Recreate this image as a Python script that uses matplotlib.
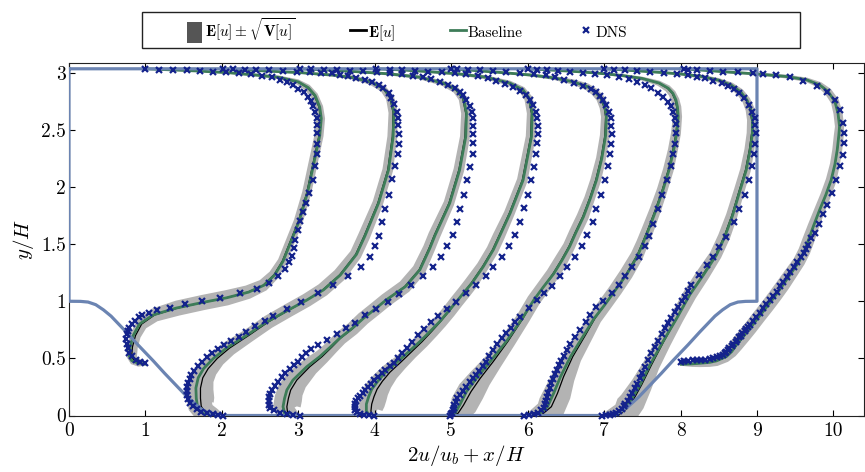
import numpy as np
import matplotlib
matplotlib.use("Agg")
import matplotlib.pyplot as plt
from matplotlib.lines import Line2D
from matplotlib.patches import Patch, Rectangle
from matplotlib.ticker import FuncFormatter, MultipleLocator

plt.rcParams["font.family"] = "serif"
plt.rcParams["font.serif"] = ["cmr10"]
plt.rcParams["mathtext.fontset"] = "cm"
plt.rcParams["axes.unicode_minus"] = False
plt.rcParams["axes.formatter.use_mathtext"] = True

# Geometry of the periodic hill (left hill), in units of H
top_wall = 3.035
domain_len = 9.0
hill_x = [0.0, 0.15, 0.25, 0.35, 0.45, 0.55, 0.65, 0.75, 0.9, 1.0, 1.1, 1.25, 1.4, 1.55, 1.7, 1.8, 1.9, 1.95]
hill_y = [1.0, 0.999, 0.993, 0.97, 0.925, 0.87, 0.80, 0.73, 0.62, 0.55, 0.48, 0.37, 0.265, 0.16, 0.07, 0.03, 0.006, 0.0]

# Profiles: y/H, baseline, mean E[u], sqrt(V[u]) -- plotted as 2u/ub + x/H
p1_y = [0.45, 0.46, 0.48, 0.52, 0.60, 0.70, 0.80, 0.88, 0.94, 0.99, 1.03, 1.08, 1.14, 1.23, 1.35, 1.50,
        1.70, 1.95, 2.20, 2.45, 2.60, 2.70, 2.80, 2.87, 2.92, 2.96, 2.98, 3.00, 3.015, 3.025, 3.035]
p1_base = [1.00, 0.90, 0.82, 0.79, 0.80, 0.84, 0.92, 1.10, 1.40, 1.75, 2.06, 2.35, 2.55, 2.69, 2.80, 2.89,
           3.01, 3.12, 3.20, 3.28, 3.30, 3.28, 3.22, 3.13, 3.00, 2.75, 2.45, 2.10, 1.70, 1.35, 1.00]
p1_mean = [1.00, 0.92, 0.85, 0.82, 0.83, 0.87, 0.95, 1.12, 1.42, 1.76, 2.06, 2.34, 2.54, 2.68, 2.79, 2.88,
           3.00, 3.11, 3.19, 3.27, 3.29, 3.27, 3.21, 3.12, 2.99, 2.74, 2.44, 2.09, 1.69, 1.34, 1.00]
p1_std = [0.02, 0.05, 0.06, 0.07, 0.07, 0.07, 0.08, 0.09, 0.10, 0.10, 0.10, 0.09, 0.08, 0.07, 0.06, 0.06,
          0.06, 0.06, 0.06, 0.06, 0.06, 0.055, 0.05, 0.045, 0.035, 0.025, 0.02, 0.015, 0.01, 0.01, 0.01]

p2_y = [0.00, 0.005, 0.015, 0.04, 0.08, 0.15, 0.24, 0.33, 0.41, 0.50, 0.59, 0.70, 0.82, 0.92, 1.01, 1.10,
        1.23, 1.41, 1.57, 1.86, 2.15, 2.44, 2.65, 2.78, 2.86, 2.92, 2.96, 2.98, 3.00, 3.015, 3.035]
p2_base = [2.00, 1.90, 1.80, 1.72, 1.68, 1.665, 1.66, 1.69, 1.76, 1.89, 2.06, 2.32, 2.59, 2.86, 3.11, 3.33,
           3.55, 3.76, 3.87, 4.05, 4.18, 4.24, 4.25, 4.21, 4.12, 3.95, 3.70, 3.45, 3.05, 2.60, 2.00]
p2_mean = [2.00, 1.93, 1.84, 1.77, 1.73, 1.72, 1.72, 1.75, 1.82, 1.94, 2.10, 2.35, 2.61, 2.87, 3.11, 3.32,
           3.54, 3.75, 3.86, 4.04, 4.17, 4.23, 4.24, 4.20, 4.11, 3.94, 3.69, 3.44, 3.04, 2.59, 2.00]
p2_std = [0.03, 0.08, 0.12, 0.15, 0.17, 0.18, 0.17, 0.15, 0.13, 0.11, 0.10, 0.09, 0.09, 0.09, 0.09, 0.09,
          0.09, 0.08, 0.08, 0.07, 0.07, 0.065, 0.06, 0.055, 0.045, 0.035, 0.025, 0.02, 0.015, 0.01, 0.01]

p3_y = [0.00, 0.005, 0.02, 0.077, 0.15, 0.223, 0.31, 0.427, 0.515, 0.60, 0.676, 0.76, 0.85, 0.93, 1.012, 1.128,
        1.275, 1.464, 1.58, 1.858, 2.15, 2.44, 2.646, 2.777, 2.85, 2.909, 2.961, 2.99, 3.01, 3.025, 3.035]
p3_base = [3.00, 2.90, 2.82, 2.80, 2.82, 2.85, 2.93, 3.11, 3.28, 3.42, 3.54, 3.70, 3.85, 4.00, 4.15, 4.40,
           4.59, 4.72, 4.79, 4.98, 5.11, 5.19, 5.20, 5.16, 5.07, 4.90, 4.59, 4.20, 3.75, 3.35, 3.00]
p3_mean = [3.00, 2.93, 2.86, 2.85, 2.87, 2.90, 2.98, 3.15, 3.31, 3.44, 3.55, 3.71, 3.85, 4.00, 4.15, 4.39,
           4.58, 4.71, 4.78, 4.97, 5.10, 5.18, 5.19, 5.15, 5.06, 4.89, 4.58, 4.19, 3.74, 3.34, 3.00]
p3_std = [0.03, 0.10, 0.15, 0.18, 0.18, 0.17, 0.15, 0.12, 0.10, 0.09, 0.09, 0.09, 0.09, 0.09, 0.09, 0.09,
          0.09, 0.08, 0.08, 0.07, 0.07, 0.065, 0.06, 0.055, 0.045, 0.035, 0.025, 0.02, 0.015, 0.01, 0.01]

p4_y = [0.00, 0.01, 0.04, 0.10, 0.165, 0.23, 0.30, 0.38, 0.46, 0.55, 0.647, 0.74, 0.822, 0.91, 0.997, 1.08,
        1.158, 1.304, 1.45, 1.566, 1.77, 2.06, 2.44, 2.646, 2.777, 2.85, 2.909, 2.961, 2.99, 3.01, 3.025, 3.035]
p4_base = [4.00, 3.92, 3.89, 3.89, 3.92, 3.96, 4.04, 4.14, 4.28, 4.43, 4.59, 4.73, 4.85, 4.96, 5.07, 5.17,
           5.27, 5.42, 5.55, 5.63, 5.77, 5.94, 6.05, 6.06, 6.02, 5.94, 5.77, 5.46, 5.10, 4.70, 4.35, 4.00]
p4_mean = [4.00, 3.96, 3.95, 3.96, 3.99, 4.03, 4.10, 4.20, 4.33, 4.47, 4.62, 4.75, 4.86, 4.97, 5.07, 5.17,
           5.26, 5.41, 5.54, 5.62, 5.76, 5.93, 6.04, 6.05, 6.01, 5.93, 5.76, 5.45, 5.09, 4.69, 4.34, 4.00]
p4_std = [0.03, 0.10, 0.15, 0.17, 0.17, 0.16, 0.14, 0.12, 0.10, 0.09, 0.09, 0.09, 0.09, 0.09, 0.09, 0.09,
          0.09, 0.08, 0.08, 0.08, 0.07, 0.07, 0.065, 0.06, 0.055, 0.045, 0.035, 0.025, 0.02, 0.015, 0.01, 0.01]

p5_y = [0.00, 0.02, 0.09, 0.21, 0.326, 0.472, 0.647, 0.851, 1.01, 1.12, 1.24, 1.36, 1.48, 1.60, 1.74, 1.90,
        2.06, 2.25, 2.45, 2.616, 2.70, 2.777, 2.836, 2.88, 2.92, 2.955, 2.98, 3.00, 3.015, 3.027, 3.035]
p5_base = [5.00, 5.05, 5.11, 5.20, 5.33, 5.51, 5.72, 5.93, 6.08, 6.20, 6.34, 6.45, 6.55, 6.63, 6.73, 6.82,
           6.90, 6.97, 7.02, 7.03, 7.01, 6.96, 6.88, 6.78, 6.60, 6.35, 6.05, 5.70, 5.40, 5.18, 5.00]
p5_mean = [5.00, 5.09, 5.16, 5.26, 5.38, 5.55, 5.74, 5.94, 6.08, 6.20, 6.33, 6.44, 6.54, 6.62, 6.72, 6.81,
           6.89, 6.96, 7.01, 7.02, 7.00, 6.95, 6.87, 6.77, 6.59, 6.34, 6.04, 5.69, 5.39, 5.17, 5.00]
p5_std = [0.05, 0.14, 0.18, 0.18, 0.15, 0.12, 0.10, 0.09, 0.09, 0.09, 0.09, 0.09, 0.08, 0.08, 0.08, 0.07,
          0.07, 0.065, 0.065, 0.06, 0.06, 0.055, 0.05, 0.045, 0.035, 0.025, 0.02, 0.015, 0.01, 0.01, 0.01]

p6_y = [0.00, 0.01, 0.077, 0.194, 0.34, 0.515, 0.72, 0.85, 0.97, 1.10, 1.24, 1.40, 1.51, 1.624, 1.80, 1.974,
        2.15, 2.324, 2.47, 2.616, 2.70, 2.762, 2.82, 2.864, 2.91, 2.95, 2.975, 2.995, 3.01, 3.022, 3.035]
p6_base = [6.02, 6.14, 6.26, 6.34, 6.43, 6.56, 6.75, 6.87, 7.01, 7.15, 7.30, 7.44, 7.51, 7.58, 7.68, 7.77,
           7.85, 7.91, 7.95, 7.97, 7.96, 7.94, 7.90, 7.84, 7.72, 7.50, 7.25, 6.95, 6.65, 6.35, 6.00]
p6_mean = [6.02, 6.19, 6.31, 6.39, 6.47, 6.59, 6.77, 6.88, 7.01, 7.15, 7.29, 7.43, 7.50, 7.57, 7.67, 7.76,
           7.84, 7.90, 7.94, 7.96, 7.95, 7.93, 7.89, 7.83, 7.71, 7.49, 7.24, 6.94, 6.64, 6.34, 6.00]
p6_std = [0.05, 0.15, 0.19, 0.18, 0.15, 0.12, 0.10, 0.09, 0.09, 0.09, 0.09, 0.085, 0.08, 0.08, 0.075, 0.07,
          0.07, 0.065, 0.065, 0.06, 0.06, 0.055, 0.05, 0.045, 0.035, 0.025, 0.02, 0.015, 0.01, 0.01, 0.01]

p7_y = [0.00, 0.005, 0.06, 0.122, 0.267, 0.443, 0.647, 0.851, 1.056, 1.231, 1.406, 1.566, 1.75, 1.974, 2.15,
        2.324, 2.47, 2.587, 2.68, 2.76, 2.83, 2.89, 2.935, 2.967, 2.99, 3.005, 3.018, 3.028, 3.035]
p7_base = [7.02, 7.16, 7.27, 7.34, 7.47, 7.60, 7.77, 7.95, 8.12, 8.30, 8.47, 8.58, 8.68, 8.78, 8.86,
           8.91, 8.94, 8.94, 8.92, 8.87, 8.79, 8.67, 8.50, 8.28, 8.00, 7.70, 7.40, 7.18, 7.00]
p7_mean = [7.02, 7.19, 7.30, 7.37, 7.49, 7.62, 7.78, 7.95, 8.12, 8.29, 8.46, 8.57, 8.67, 8.77, 8.85,
           8.90, 8.93, 8.93, 8.91, 8.86, 8.78, 8.66, 8.49, 8.27, 7.99, 7.69, 7.39, 7.17, 7.00]
p7_std = [0.05, 0.14, 0.18, 0.17, 0.14, 0.11, 0.10, 0.09, 0.09, 0.09, 0.08, 0.08, 0.075, 0.07, 0.07,
          0.065, 0.065, 0.06, 0.06, 0.055, 0.05, 0.04, 0.03, 0.025, 0.02, 0.015, 0.01, 0.01, 0.01]

p8_y = [0.448, 0.452, 0.457, 0.465, 0.478, 0.516, 0.56, 0.618, 0.69, 0.764, 0.86, 0.953, 1.05, 1.143, 1.25,
        1.347, 1.44, 1.53, 1.66, 1.80, 1.93, 2.06, 2.20, 2.325, 2.45, 2.53, 2.646, 2.748, 2.836, 2.894,
        2.938, 2.967, 2.99, 3.005, 3.018, 3.028, 3.035]
p8_base = [8.01, 8.15, 8.25, 8.38, 8.47, 8.60, 8.67, 8.73, 8.82, 8.91, 9.02, 9.13, 9.24, 9.34, 9.45,
           9.55, 9.62, 9.67, 9.74, 9.82, 9.90, 9.97, 10.02, 10.05, 10.07, 10.08, 10.06, 10.02, 9.93, 9.82,
           9.65, 9.39, 8.99, 8.65, 8.38, 8.18, 8.00]
p8_mean = [8.01, 8.15, 8.25, 8.37, 8.46, 8.58, 8.66, 8.73, 8.82, 8.91, 9.02, 9.13, 9.24, 9.34, 9.45,
           9.55, 9.62, 9.67, 9.74, 9.82, 9.90, 9.97, 10.02, 10.05, 10.07, 10.08, 10.06, 10.02, 9.93, 9.82,
           9.65, 9.39, 8.99, 8.65, 8.38, 8.18, 8.00]
p8_std = [0.02, 0.04, 0.05, 0.06, 0.07, 0.08, 0.085, 0.09, 0.09, 0.09, 0.09, 0.09, 0.09, 0.09, 0.085,
          0.08, 0.08, 0.08, 0.075, 0.07, 0.07, 0.07, 0.065, 0.065, 0.065, 0.06, 0.06, 0.055, 0.05, 0.04,
          0.03, 0.025, 0.02, 0.015, 0.01, 0.01, 0.01]

# DNS reference
dns1_y = [0.46, 0.47, 0.49, 0.52, 0.55, 0.59, 0.63, 0.67, 0.71, 0.74, 0.77, 0.80, 0.83, 0.86, 0.88, 0.90,
          0.92, 0.945, 0.975, 1.00, 1.03, 1.07, 1.11, 1.16, 1.22, 1.28, 1.34, 1.40, 1.47, 1.54, 1.62, 1.70,
          1.78, 1.86, 1.95, 2.06, 2.18, 2.29, 2.38, 2.47, 2.54, 2.60, 2.66, 2.71, 2.75, 2.79, 2.83, 2.86,
          2.89, 2.915, 2.937, 2.96, 2.975, 2.99, 3.00, 3.005, 3.01, 3.015, 3.02, 3.025, 3.028, 3.03]
dns1_x = [0.99, 0.93, 0.87, 0.82, 0.79, 0.77, 0.755, 0.75, 0.755, 0.77, 0.79, 0.82, 0.86, 0.91, 0.96, 1.04,
          1.15, 1.32, 1.52, 1.74, 1.98, 2.24, 2.46, 2.62, 2.73, 2.82, 2.88, 2.92, 2.94, 2.96, 2.99, 3.02,
          3.06, 3.10, 3.14, 3.19, 3.22, 3.24, 3.25, 3.25, 3.25, 3.24, 3.22, 3.19, 3.16, 3.12, 3.07, 3.00,
          2.93, 2.85, 2.76, 2.65, 2.52, 2.38, 2.22, 2.06, 1.89, 1.71, 1.54, 1.36, 1.18, 1.00]

dns2_y = [0.000, 0.004, 0.010, 0.020, 0.035, 0.055, 0.08, 0.11, 0.145, 0.18, 0.215, 0.25, 0.285, 0.32,
          0.355, 0.39, 0.43, 0.47, 0.51, 0.545, 0.58, 0.615, 0.65, 0.69, 0.73, 0.78, 0.83, 0.875, 0.93,
          0.997, 1.07, 1.143, 1.22, 1.30, 1.39, 1.485, 1.575, 1.69, 1.81, 1.93, 2.07, 2.18, 2.29, 2.38,
          2.465, 2.54, 2.60, 2.66, 2.73, 2.78, 2.82, 2.865, 2.89, 2.915, 2.94, 2.95, 2.97, 2.98, 2.996,
          3.00, 3.005, 3.01, 3.015, 3.02, 3.025, 3.028, 3.03, 3.032]
dns2_x = [2.02, 1.95, 1.88, 1.80, 1.73, 1.67, 1.62, 1.58, 1.56, 1.545, 1.54, 1.55, 1.56, 1.58,
          1.60, 1.64, 1.69, 1.74, 1.80, 1.87, 1.95, 2.03, 2.12, 2.22, 2.32, 2.43, 2.56, 2.67, 2.85,
          3.04, 3.26, 3.457, 3.65, 3.82, 3.94, 4.00, 4.06, 4.09, 4.14, 4.19, 4.23, 4.27, 4.30, 4.32,
          4.32, 4.31, 4.31, 4.29, 4.25, 4.21, 4.18, 4.11, 4.05, 3.97, 3.87, 3.76, 3.65, 3.54, 3.44,
          3.30, 3.15, 2.98, 2.80, 2.62, 2.45, 2.30, 2.15, 2.02]

dns3_y = [0.000, 0.004, 0.012, 0.025, 0.045, 0.07, 0.095, 0.125, 0.16, 0.19, 0.225, 0.26, 0.297, 0.335,
          0.37, 0.405, 0.44, 0.472, 0.51, 0.545, 0.58, 0.618, 0.66, 0.71, 0.764, 0.813, 0.88, 0.933,
          0.997, 1.061, 1.143, 1.222, 1.304, 1.39, 1.485, 1.58, 1.69, 1.808, 1.931, 2.062, 2.179, 2.287,
          2.383, 2.465, 2.538, 2.602, 2.66, 2.71, 2.763, 2.807, 2.836, 2.865, 2.894, 2.923, 2.944, 2.961,
          2.975, 2.987, 2.997, 3.005, 3.012, 3.018, 3.023, 3.027, 3.03, 3.032]
dns3_x = [3.02, 2.93, 2.85, 2.76, 2.68, 2.63, 2.61, 2.61, 2.62, 2.63, 2.66, 2.69, 2.73, 2.78,
          2.83, 2.89, 2.94, 2.99, 3.05, 3.10, 3.17, 3.26, 3.37, 3.50, 3.62, 3.74, 3.87, 4.02,
          4.17, 4.32, 4.47, 4.63, 4.76, 4.86, 4.95, 5.02, 5.07, 5.12, 5.17, 5.21, 5.25, 5.28,
          5.29, 5.29, 5.29, 5.29, 5.27, 5.25, 5.20, 5.16, 5.11, 5.05, 4.96, 4.85, 4.74, 4.63,
          4.50, 4.35, 4.20, 4.03, 3.85, 3.67, 3.50, 3.33, 3.16, 3.02]

dns4_y = [0.000, 0.003, 0.008, 0.016, 0.03, 0.05, 0.075, 0.10, 0.125, 0.15, 0.175, 0.20, 0.225, 0.253,
          0.28, 0.31, 0.34, 0.37, 0.40, 0.43, 0.46, 0.50, 0.545, 0.595, 0.647, 0.705, 0.758, 0.816, 0.872,
          0.933, 0.997, 1.07, 1.143, 1.222, 1.304, 1.39, 1.485, 1.58, 1.697, 1.814, 1.931, 2.062, 2.179,
          2.287, 2.383, 2.465, 2.538, 2.602, 2.66, 2.719, 2.763, 2.807, 2.844, 2.874, 2.903, 2.932, 2.952,
          2.973, 2.985, 2.995, 3.003, 3.01, 3.017, 3.022, 3.027, 3.031]
dns4_x = [3.99, 3.92, 3.86, 3.81, 3.77, 3.745, 3.74, 3.745, 3.76, 3.78, 3.81, 3.84, 3.87, 3.91,
          3.95, 3.99, 4.04, 4.09, 4.14, 4.20, 4.25, 4.30, 4.35, 4.42, 4.49, 4.57, 4.65, 4.73, 4.83,
          4.94, 5.06, 5.19, 5.32, 5.45, 5.55, 5.66, 5.75, 5.83, 5.90, 5.95, 6.01, 6.05, 6.08,
          6.11, 6.12, 6.13, 6.13, 6.12, 6.11, 6.07, 6.03, 5.98, 5.90, 5.81, 5.70, 5.59, 5.48,
          5.35, 5.20, 5.05, 4.88, 4.70, 4.52, 4.36, 4.20, 4.02]

dns5_y = [0.0, 0.01, 0.025, 0.045, 0.07, 0.095, 0.12, 0.15, 0.18, 0.215, 0.253, 0.29, 0.325, 0.355, 0.39,
          0.43, 0.472, 0.52, 0.574, 0.625, 0.676, 0.72, 0.764, 0.815, 0.866, 0.939, 1.012, 1.07, 1.136,
          1.22, 1.30, 1.39, 1.48, 1.58, 1.697, 1.808, 1.93, 2.06, 2.18, 2.29, 2.38, 2.465, 2.538, 2.602,
          2.66, 2.719, 2.763, 2.80, 2.83, 2.856, 2.88, 2.91, 2.94, 2.96, 2.98, 2.992, 3.0, 3.008, 3.015,
          3.021, 3.026, 3.03, 3.033]
dns5_x = [4.99, 5.00, 5.01, 5.02, 5.03, 5.04, 5.06, 5.08, 5.11, 5.15, 5.20, 5.24, 5.29, 5.33, 5.37,
          5.42, 5.46, 5.50, 5.55, 5.60, 5.66, 5.72, 5.78, 5.84, 5.90, 6.02, 6.12, 6.21, 6.32,
          6.42, 6.52, 6.62, 6.71, 6.78, 6.85, 6.90, 6.96, 7.01, 7.05, 7.08, 7.09, 7.10, 7.09, 7.09,
          7.06, 7.03, 6.99, 6.95, 6.90, 6.83, 6.72, 6.60, 6.47, 6.36, 6.24, 6.08, 5.90, 5.72, 5.55,
          5.38, 5.22, 5.08, 5.00]

dns6_y = [0.000, 0.005, 0.012, 0.025, 0.045, 0.07, 0.10, 0.13, 0.165, 0.20, 0.24, 0.281, 0.32, 0.36,
          0.40, 0.44, 0.48, 0.52, 0.573, 0.63, 0.69, 0.75, 0.82, 0.88, 0.953, 1.003, 1.07, 1.14, 1.22,
          1.30, 1.39, 1.48, 1.57, 1.68, 1.81, 1.93, 2.06, 2.18, 2.29, 2.38, 2.47, 2.552, 2.60, 2.66,
          2.71, 2.748, 2.786, 2.826, 2.864, 2.893, 2.923, 2.943, 2.966, 2.98, 2.992, 3.002, 3.01,
          3.017, 3.023, 3.028, 3.032]
dns6_x = [5.95, 6.02, 6.08, 6.13, 6.18, 6.21, 6.23, 6.245, 6.255, 6.27, 6.29, 6.31, 6.33, 6.36,
          6.38, 6.41, 6.44, 6.47, 6.51, 6.56, 6.62, 6.68, 6.76, 6.815, 6.90, 6.99, 7.10, 7.19, 7.27,
          7.37, 7.46, 7.53, 7.59, 7.64, 7.70, 7.76, 7.82, 7.87, 7.90, 7.93, 7.94, 7.94, 7.93, 7.90,
          7.87, 7.83, 7.77, 7.71, 7.62, 7.53, 7.43, 7.32, 7.19, 7.04, 6.88, 6.72, 6.56,
          6.40, 6.25, 6.12, 6.00]

dns7_y = [0.000, 0.003, 0.008, 0.015, 0.025, 0.04, 0.06, 0.08, 0.10, 0.13, 0.165, 0.20, 0.238, 0.28,
          0.326, 0.375, 0.428, 0.485, 0.545, 0.60, 0.653, 0.71, 0.764, 0.81, 0.857, 0.905, 0.953, 1.00,
          1.041, 1.09, 1.143, 1.231, 1.318, 1.391, 1.479, 1.566, 1.69, 1.81, 1.93, 2.06, 2.18, 2.29,
          2.38, 2.47, 2.54, 2.60, 2.66, 2.72, 2.777, 2.82, 2.86, 2.88, 2.909, 2.932, 2.95, 2.967, 2.98,
          2.992, 3.002, 3.01, 3.017, 3.023, 3.028, 3.032]
dns7_x = [6.97, 7.03, 7.08, 7.12, 7.16, 7.20, 7.23, 7.26, 7.28, 7.31, 7.34, 7.37, 7.40, 7.43,
          7.47, 7.50, 7.53, 7.57, 7.62, 7.66, 7.71, 7.76, 7.80, 7.84, 7.88, 7.93, 7.97, 8.02,
          8.06, 8.10, 8.14, 8.24, 8.34, 8.42, 8.50, 8.59, 8.70, 8.77, 8.84, 8.90, 8.94, 8.96,
          8.98, 8.99, 8.98, 8.97, 8.94, 8.90, 8.83, 8.76, 8.70, 8.62, 8.54, 8.43, 8.32, 8.21, 8.10,
          7.95, 7.78, 7.60, 7.43, 7.28, 7.13, 7.00]

dns8_y = [0.47, 0.478, 0.48, 0.482, 0.484, 0.487, 0.49, 0.495, 0.50, 0.508, 0.518, 0.53, 0.545, 0.56,
          0.574, 0.59, 0.61, 0.628, 0.647, 0.665, 0.685, 0.70, 0.72, 0.74, 0.757, 0.775, 0.793, 0.83,
          0.866, 0.90, 0.939, 0.975, 1.012, 1.05, 1.085, 1.13, 1.172, 1.215, 1.26, 1.30, 1.347, 1.385,
          1.42, 1.456, 1.493, 1.552, 1.60, 1.677, 1.764, 1.843, 1.945, 2.06, 2.18, 2.28, 2.383, 2.47,
          2.558, 2.675, 2.763, 2.836, 2.88, 2.93, 2.967, 2.98, 2.99, 2.996, 3.003, 3.01, 3.017, 3.023,
          3.028, 3.03]
dns8_x = [8.00, 8.04, 8.10, 8.16, 8.21, 8.27, 8.32, 8.38, 8.43, 8.48, 8.52, 8.55, 8.58, 8.60,
          8.62, 8.64, 8.67, 8.69, 8.72, 8.74, 8.77, 8.79, 8.81, 8.84, 8.86, 8.88, 8.91, 8.95,
          8.99, 9.04, 9.08, 9.12, 9.17, 9.21, 9.26, 9.30, 9.34, 9.39, 9.43, 9.48, 9.52, 9.57,
          9.61, 9.64, 9.67, 9.71, 9.76, 9.81, 9.87, 9.92, 9.98, 10.03, 10.09, 10.12, 10.14, 10.14,
          10.12, 10.09, 10.02, 9.91, 9.78, 9.60, 9.43, 9.25, 9.08, 8.95, 8.75, 8.55, 8.38, 8.22,
          8.10, 8.04]

profiles = [
    (p1_y, p1_base, p1_mean, p1_std),
    (p2_y, p2_base, p2_mean, p2_std),
    (p3_y, p3_base, p3_mean, p3_std),
    (p4_y, p4_base, p4_mean, p4_std),
    (p5_y, p5_base, p5_mean, p5_std),
    (p6_y, p6_base, p6_mean, p6_std),
    (p7_y, p7_base, p7_mean, p7_std),
    (p8_y, p8_base, p8_mean, p8_std),
]
dns = [(dns1_x, dns1_y), (dns2_x, dns2_y), (dns3_x, dns3_y), (dns4_x, dns4_y),
       (dns5_x, dns5_y), (dns6_x, dns6_y), (dns7_x, dns7_y), (dns8_x, dns8_y)]

GREY = "#b3b3b3"
GREEN = "#3d7c58"
NAVY = "#14238c"
WALL = "#6b84b2"

fig = plt.figure(figsize=(8.65, 4.72), dpi=100)
ax = fig.add_axes([69 / 865, 1 - 415.5 / 472, 795 / 865, 353 / 472])
ax.set_xlim(0, 10.4)
ax.set_ylim(0, 3.09)


def band_polygon(xs, ys, s):
    # offset the mean curve normal to itself (in screen space) by +/- sqrt(V)
    xs, ys, s = np.asarray(xs), np.asarray(ys), np.asarray(s)
    pts = ax.transData.transform(np.column_stack([xs, ys]))
    d = np.gradient(pts, axis=0)
    n = np.column_stack([-d[:, 1], d[:, 0]])
    n /= np.maximum(np.linalg.norm(n, axis=1), 1e-9)[:, None]
    k = ax.transData.transform([[1, 0]])[0, 0] - ax.transData.transform([[0, 0]])[0, 0]
    off = n * (s * k)[:, None]
    inv = ax.transData.inverted()
    upper = inv.transform(pts + off)
    lower = inv.transform(pts - off)
    return np.vstack([upper, lower[::-1]])


for y, base, mean, std in profiles:
    poly = band_polygon(mean, y, std)
    ax.fill(poly[:, 0], poly[:, 1], color=GREY, lw=0, zorder=1)
    ax.plot(mean, y, color="k", lw=0.9, zorder=2)
    ax.plot(base, y, color=GREEN, lw=2.0, zorder=3)

# domain outline
hx = np.asarray(hill_x)
hy = np.asarray(hill_y)
wall_x = np.concatenate([[0.0], hx, domain_len - hx[::-1], [domain_len, 0.0]])
wall_y = np.concatenate([[top_wall], hy, hy[::-1], [top_wall, top_wall]])
ax.plot(wall_x, wall_y, color=WALL, lw=2.3, zorder=4, solid_joinstyle="round")

for dx, dy in dns:
    ax.plot(dx, dy, ls="none", marker="x", ms=4.0, mew=1.6, color=NAVY, zorder=5, clip_on=False)

ax.xaxis.set_major_locator(MultipleLocator(1))
ax.yaxis.set_major_locator(MultipleLocator(0.5))
fmt = FuncFormatter(lambda v, p: f"{v:g}")
ax.xaxis.set_major_formatter(fmt)
ax.yaxis.set_major_formatter(fmt)
ax.tick_params(direction="in", top=True, right=True, length=4, width=0.8, labelsize=14)
ax.tick_params(axis="x", pad=5)
ax.tick_params(axis="y", pad=2)
for sp in ax.spines.values():
    sp.set_linewidth(0.8)
    sp.set_color("#222222")

ax.set_xlabel(r"$2u/u_b + x/H$", fontsize=15, labelpad=2)
ax.set_ylabel(r"$y/H$", fontsize=15, labelpad=4)

handles = [
    Patch(facecolor="#555555", edgecolor="none"),
    Line2D([], [], color="k", lw=2),
    Line2D([], [], color=GREEN, lw=2),
    Line2D([], [], ls="none", marker="x", ms=4.0, mew=1.6, color=NAVY),
]
labels = [r"$\mathbf{E}[u] \pm \sqrt{\mathbf{V}[u]}$", r"$\mathbf{E}[u]$", "Baseline", "DNS"]
fig.legend(handles, labels, loc="center left", bbox_to_anchor=(187 / 865, 1 - 30 / 472),
           bbox_transform=fig.transFigure, ncol=4, frameon=False, fontsize=11,
           handlelength=1.0, handleheight=1.65, handletextpad=0.15, columnspacing=3.6,
           borderpad=0, borderaxespad=0)
fig.patches.append(Rectangle((142 / 865, 1 - 48 / 472), 658 / 865, 36 / 472, fill=False,
                             edgecolor="#222222", lw=1.0, transform=fig.transFigure, figure=fig))

fig.savefig("out.png", dpi=100)
